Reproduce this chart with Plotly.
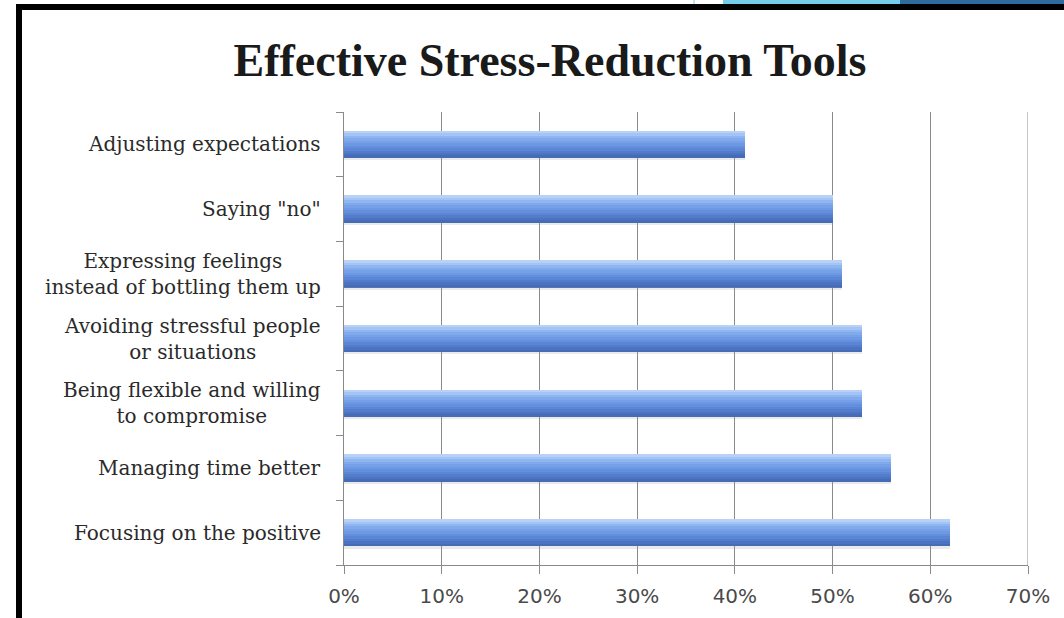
import plotly.graph_objects as go

categories = [
    "Adjusting expectations",
    "Saying \"no\"",
    "Expressing feelings<br>instead of bottling them up",
    "Avoiding stressful people<br>or situations",
    "Being flexible and willing<br>to compromise",
    "Managing time better",
    "Focusing on the positive",
]
values = [0.41, 0.50, 0.51, 0.53, 0.53, 0.56, 0.62]
tick_vals = [0, 0.1, 0.2, 0.3, 0.4, 0.5, 0.6, 0.7]
tick_text = ["0%", "10%", "20%", "30%", "40%", "50%", "60%", "70%"]
title_text = "Effective Stress-Reduction Tools"

W, H = 1064, 618
ML, MR, MT, MB = 344, 36, 112, 53
PW, PH = W - ML - MR, H - MT - MB


def px(x):
    return (x - ML) / PW


def py(y):
    return (H - MB - y) / PH


# gradient strips (top light -> bottom dark)
strip_colors = ["#b8d2f7", "#a3c4f4", "#8fb6f0", "#80aaec", "#76a1e8", "#6d98e3",
                "#648fdd", "#5b86d5", "#537ccb", "#4b73c1", "#466cb8"]
bar_w = 0.42
n = len(strip_colors)
cat_ids = list(range(len(categories)))

fig = go.Figure()
for i, col in enumerate(strip_colors):
    fig.add_trace(go.Bar(
        x=values, y=cat_ids, orientation="h",
        width=bar_w / n + 0.003, offset=-bar_w / 2 + i * bar_w / n,
        marker=dict(color=col, line=dict(width=0)),
        showlegend=False, hoverinfo="x+y",
    ))
# faint shadow under bars
fig.add_trace(go.Bar(
    x=values, y=cat_ids, orientation="h",
    width=0.035, offset=bar_w / 2,
    marker=dict(color="rgba(160,160,160,0.22)", line=dict(width=0)),
    showlegend=False, hoverinfo="skip",
))

annotations = []
for cid, lab in zip(cat_ids, categories):
    annotations.append(dict(
        x=0, xref="paper", xanchor="right", xshift=-21,
        y=cid, yref="y", yanchor="middle",
        text=lab, showarrow=False, align="center",
        font=dict(family="DejaVu Serif", size=20, color="#2a2a2a"),
    ))

shapes = [
    # gridline at the last tick (range edge)
    dict(type="line", xref="x", yref="paper", x0=tick_vals[-1], x1=tick_vals[-1], y0=0, y1=1,
         line=dict(color="#8a8a8a", width=1), layer="below"),
    # black frame (left and top)
    dict(type="rect", xref="paper", yref="paper", x0=px(16), x1=px(22), y0=py(H), y1=py(4),
         fillcolor="black", line=dict(width=0), layer="above"),
    dict(type="rect", xref="paper", yref="paper", x0=px(16), x1=px(W), y0=py(10), y1=py(4),
         fillcolor="black", line=dict(width=0), layer="above"),
    # slide decoration top-right
    dict(type="rect", xref="paper", yref="paper", x0=px(723), x1=px(900), y0=py(4), y1=py(0),
         fillcolor="#74cdea", line=dict(width=0), layer="above"),
    dict(type="rect", xref="paper", yref="paper", x0=px(900), x1=px(W), y0=py(4), y1=py(0),
         fillcolor="#2f6c9c", line=dict(width=0), layer="above"),
    dict(type="line", xref="paper", yref="paper", x0=px(694), x1=px(694), y0=py(4), y1=py(0),
         line=dict(color="#74cdea", width=1), layer="above"),
]

fig.update_layout(
    width=W, height=H, autosize=False,
    margin=dict(l=ML, r=MR, t=MT, b=MB, autoexpand=False),
    paper_bgcolor="white", plot_bgcolor="white",
    barmode="overlay", bargap=0,
    title=dict(text="<b>" + title_text + "</b>", x=550 / W, xanchor="center",
               y=1 - 60 / H, yanchor="middle", yref="container", automargin=False,
               font=dict(family="Liberation Serif", size=46, color="#1a1a1a")),
    xaxis=dict(
        range=[0, 0.7], automargin=False,
        tickvals=tick_vals, ticktext=tick_text,
        showgrid=True, gridcolor="#8a8a8a", gridwidth=1,
        showline=True, linecolor="#8a8a8a", linewidth=1,
        ticks="outside", ticklen=8, tickcolor="#8a8a8a",
        ticklabelstandoff=5,
        tickfont=dict(family="DejaVu Sans", size=20, color="#4a4a4a"),
        zeroline=False, fixedrange=True,
    ),
    yaxis=dict(
        range=[len(categories) - 0.5, -0.5], automargin=False,
        tickvals=[c + 0.5 for c in cat_ids[:-1]] + [-0.5, len(categories) - 0.5],
        showticklabels=False,
        showgrid=False, showline=True, linecolor="#8a8a8a", linewidth=1,
        ticks="outside", ticklen=7, tickcolor="#8a8a8a",
        zeroline=False, fixedrange=True,
    ),
    annotations=annotations,
    shapes=shapes,
)

fig.write_html("out.html")
